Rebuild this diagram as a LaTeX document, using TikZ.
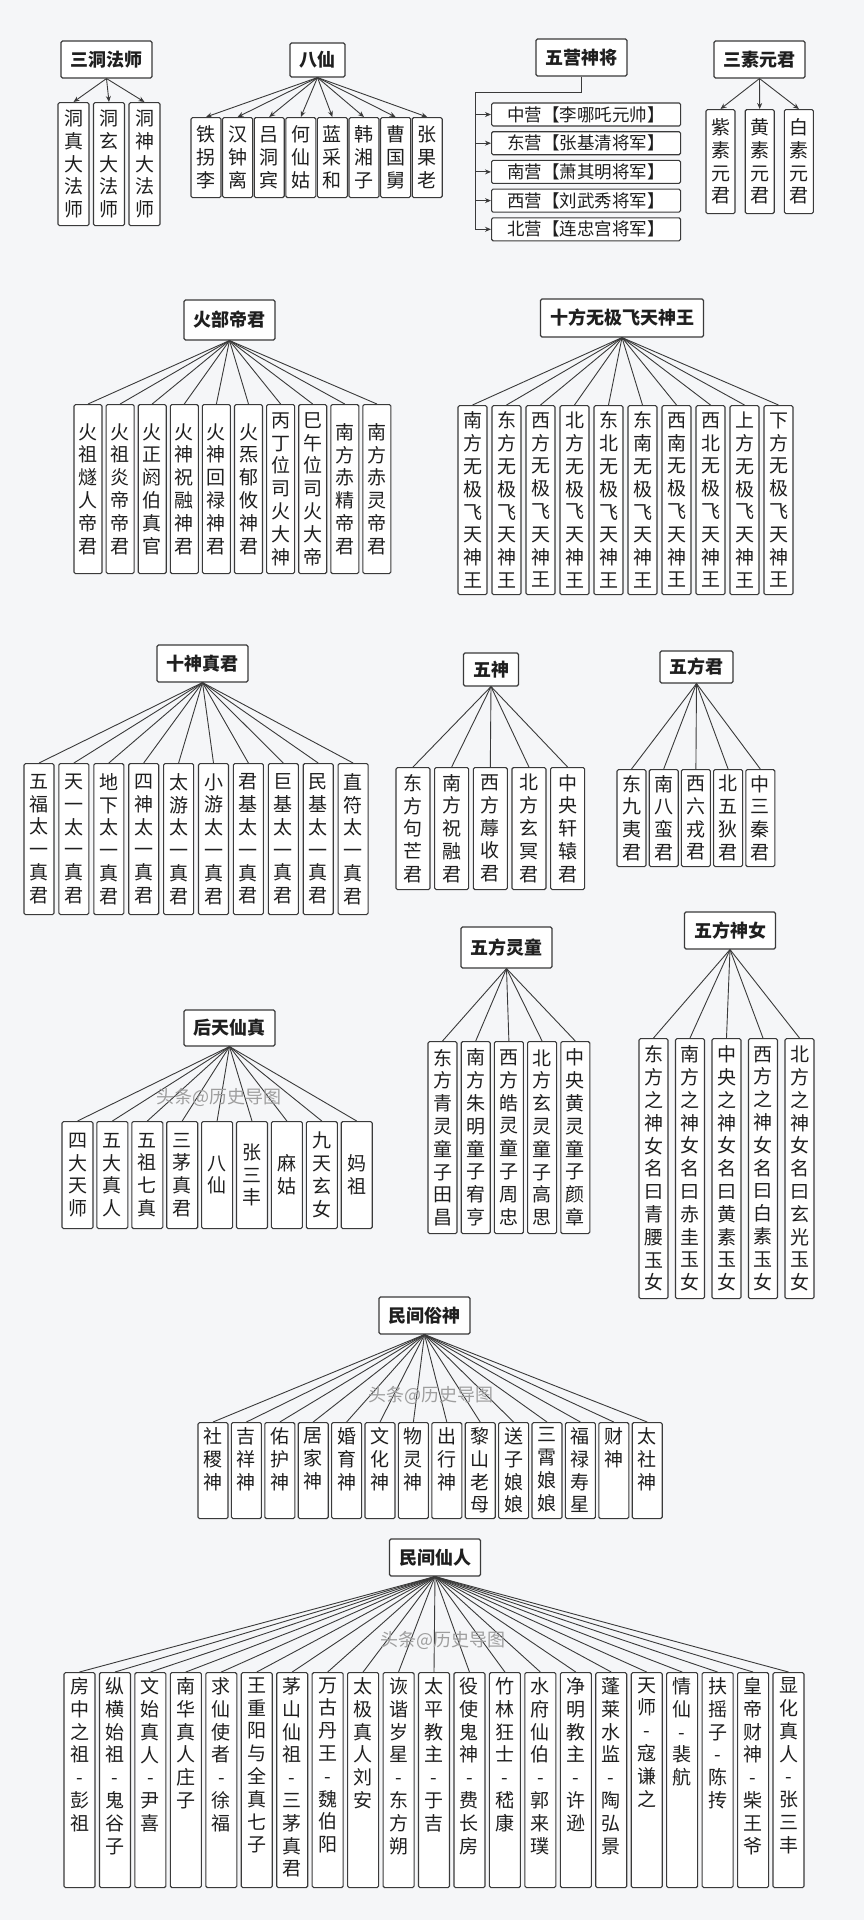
\documentclass[tikz,border=0pt]{standalone}
\usepackage{fontspec}
\usepackage{tikz}
\usetikzlibrary{arrows.meta}
\newfontfamily\cjk{Noto Sans CJK SC}
\definecolor{paper}{HTML}{F5F6F8}
\definecolor{ink}{HTML}{3A3A3A}
\definecolor{txt}{HTML}{1F1F1F}
\tikzset{>/.tip={Stealth[length=6pt,width=5pt]}}
\tikzset{
  head/.style={draw=ink,fill=white,line width=1.1pt,rounded corners=1.5pt,text=txt,
    inner xsep=9.5pt,minimum height=37pt,font=\cjk\bfseries\fontsize{18}{20}\selectfont},
  leaf/.style={draw=ink,fill=white,line width=1.1pt,rounded corners=1.5pt,text=txt,
    inner xsep=0pt,inner ysep=5pt,anchor=north,font=\cjk\fontsize{19}{22.8}\selectfont},
  camp/.style={draw=ink,fill=white,line width=1.1pt,rounded corners=1.5pt,text=txt,
    inner sep=0pt,minimum width=189pt,minimum height=23pt,anchor=west,
    font=\cjk\fontsize{17.5}{20}\selectfont},
  tie/.style={ink,line width=0.9pt},
  wmark/.style={text=black!38,font=\cjk\fontsize{18}{20}\selectfont}
}
% one character per line
\def\vt#1{\edef\vtarg{#1}\expandafter\vtfirst\vtarg\relax}
\def\vtfirst#1{#1\vtrest}
\def\vtrest#1{\ifx#1\relax\else\par#1\expandafter\vtrest\fi}
\newcommand\vcol[3]{\parbox[c][#1][#2]{20pt}{\centering\vt{#3}}}

\begin{document}
\begin{tikzpicture}[x=1pt,y=-1pt]
  \useasboundingbox (0,0) rectangle (864,1920);
  \fill[paper] (0,0) rectangle (864,1920);
  % 三洞法师
  \node[head] (sd) at (106.5,59.5) {三洞法师};
  \foreach \t [count=\i] in {洞真大法师,洞玄大法师,洞神大法师}
    \node[leaf,minimum width=31pt] (sd\i) at ({73.5+35.5*(\i-1)},102) {\vcol{113pt}{c}{\t}};
  \foreach \i in {1,...,3} \draw[->,tie] (sd.south) -- (sd\i.north);
  % 八仙
  \node[head,minimum height=34pt] (bx) at (317.5,60) {八仙};
  \foreach \t [count=\i] in {铁拐李,汉钟离,吕洞宾,何仙姑,蓝采和,韩湘子,曹国舅,张果老}
    \node[leaf,minimum width=30pt] (bx\i) at ({206+31.6*(\i-1)},117) {\vcol{70pt}{c}{\t}};
  \foreach \i in {1,...,8} \draw[->,tie] (bx.south) -- (bx\i.north);
  % 五营神将
  \node[head] (wy) at (581.5,57.5) {五营神将};
  \foreach \t [count=\i] in {中营【李哪吒元帅】,东营【张基清将军】,南营【萧其明将军】,西营【刘武秀将军】,北营【连忠宫将军】}
    \node[camp] (wy\i) at (491,{114.5+28.7*(\i-1)}) {\t};
  \coordinate (wyk) at (475,92);
  \draw[tie] (wy.south) |- (wyk) -- (wyk |- wy5.west);
  \foreach \i in {1,...,5} \draw[->,tie] (wyk |- wy\i.west) -- (wy\i.west);
  % 三素元君
  \node[head] (ss) at (759.5,59.5) {三素元君};
  \foreach \t [count=\i] in {紫素元君,黄素元君,白素元君}
    \node[leaf,minimum width=29pt] (ss\i) at ({720.5+39.2*(\i-1)},109) {\vcol{94pt}{c}{\t}};
  \foreach \i in {1,...,3} \draw[->,tie] (ss.south) -- (ss\i.north);
  % 火部帝君
  \node[head,minimum height=40pt] (hb) at (229.5,320) {火部帝君};
  \foreach \t [count=\i] in {火祖燧人帝君,火祖炎帝帝君,火正阏伯真官,火神祝融神君,火神回禄神君,
      火炁郁攸神君,丙丁位司火大神,巳午位司火大帝,南方赤精帝君,南方赤灵帝君}
    \node[leaf,minimum width=28pt] (hb\i) at ({88+32.1*(\i-1)},404) {\vcol{159pt}{c}{\t}};
  \foreach \i in {1,...,10} \draw[tie] (hb.south) -- (hb\i.north);
  % 十方无极飞天神王
  \node[head,minimum height=38pt] (sf) at (622,318) {十方无极飞天神王};
  \foreach \t [count=\i] in {南方,东方,西方,北方,东北,东南,西南,西北,上方,下方}
    \node[leaf,minimum width=29pt] (sf\i) at ({472.5+34*(\i-1)},405) {\vcol{179pt}{c}{\t 无极飞天神王}};
  \foreach \i in {1,...,10} \draw[tie] (sf.south) -- (sf\i.north);
  % 十神真君
  \node[head] (sj) at (202.5,663.5) {十神真君};
  \foreach \t [count=\i] in {五福,天一,地下,四神,太游,小游,君基,巨基,民基,直符}
    \node[leaf,minimum width=30pt] (sj\i) at ({39+34.9*(\i-1)},763) {\vcol{141pt}{c}{\t 太一真君}};
  \foreach \i in {1,...,10} \draw[tie] (sj.south) -- (sj\i.north);
  % 五神
  \node[head,minimum height=33pt] (ws) at (491,669.5) {五神};
  \foreach \t [count=\i] in {东方句芒君,南方祝融君,西方蓐收君,北方玄冥君,中央轩辕君}
    \node[leaf,minimum width=34pt] (ws\i) at ({413+38.65*(\i-1)},767) {\vcol{112pt}{c}{\t}};
  \foreach \i in {1,...,5} \draw[tie] (ws.south) -- (ws\i.north);
  % 五方君
  \node[head,minimum height=32pt] (wf) at (696.5,667) {五方君};
  \foreach \t [count=\i] in {东九夷君,南八蛮君,西六戎君,北五狄君,中三秦君}
    \node[leaf,minimum width=29pt] (wf\i) at ({631.5+32.2*(\i-1)},769) {\vcol{87pt}{c}{\t}};
  \foreach \i in {1,...,5} \draw[tie] (wf.south) -- (wf\i.north);
  % 后天仙真
  \node[head,minimum height=36pt] (ht) at (229.5,1028) {后天仙真};
  \foreach \t [count=\i] in {四大天师,五大真人,五祖七真,三茅真君,八仙,张三丰,麻姑,九天玄女,妈祖}
    \node[leaf,minimum width=31pt] (ht\i) at ({77.5+34.9*(\i-1)},1121) {\vcol{97pt}{c}{\t}};
  \foreach \i in {1,...,9} \draw[tie] (ht.south) -- (ht\i.north);
  \node[wmark] (wm1) at (219,1097) {头条@历史导图};
  % 五方灵童
  \node[head,minimum height=41pt] (lt) at (506.5,947.5) {五方灵童};
  \foreach \t [count=\i] in {东方青灵童子田昌,南方朱明童子宥亨,西方皓灵童子周忠,北方玄灵童子高思,中央黄灵童子颜章}
    \node[leaf,minimum width=29pt] (lt\i) at ({442.5+33.2*(\i-1)},1041) {\vcol{182pt}{c}{\t}};
  \foreach \i in {1,...,5} \draw[tie] (lt.south) -- (lt\i.north);
  % 五方神女
  \node[head] (sn) at (730,930.5) {五方神女};
  \foreach \t [count=\i] in {东方之神女名曰青腰玉女,南方之神女名曰赤圭玉女,中央之神女名曰黄素玉女,
      西方之神女名曰白素玉女,北方之神女名曰玄光玉女}
    \node[leaf,minimum width=29pt] (sn\i) at ({653.5+36.5*(\i-1)},1038) {\vcol{250pt}{c}{\t}};
  \foreach \i in {1,...,5} \draw[tie] (sn.south) -- (sn\i.north);
  % 民间俗神
  \node[head] (ms) at (424.5,1315.5) {民间俗神};
  \foreach \t [count=\i] in {社稷神,吉祥神,佑护神,居家神,婚育神,文化神,物灵神,出行神,
      黎山老母,送子娘娘,三霄娘娘,福禄寿星,财神,太社神}
    \node[leaf,minimum width=30pt] (ms\i) at ({213+33.4*(\i-1)},1422) {\vcol{86pt}{t}{\t}};
  \foreach \i in {1,...,14} \draw[tie] (ms.south) -- (ms\i.north);
  \node[wmark] (wm2) at (431,1395) {头条@历史导图};
  % 民间仙人
  \node[head] (mx) at (435,1557.5) {民间仙人};
  \foreach \t [count=\i] in {房中之祖-彭祖,纵横始祖-鬼谷子,文始真人-尹喜,南华真人庄子,求仙使者-徐福,
      王重阳与全真七子,茅山仙祖-三茅真君,万古丹王-魏伯阳,太极真人刘安,诙谐岁星-东方朔,
      太平教主-于吉,役使鬼神-费长房,竹林狂士-嵇康,水府仙伯-郭来璞,净明教主-许逊,
      蓬莱水监-陶弘景,天师-寇谦之,情仙-裴航,扶摇子-陈抟,皇帝财神-柴王爷,显化真人-张三丰}
    \node[leaf,minimum width=31pt] (mx\i) at ({79.5+35.45*(\i-1)},1672) {\vcol{205pt}{t}{\t}};
  \foreach \i in {1,...,21} \draw[tie] (mx.south) -- (mx\i.north);
  \node[wmark] (wm3) at (443,1640) {头条@历史导图};
\end{tikzpicture}
\end{document}
